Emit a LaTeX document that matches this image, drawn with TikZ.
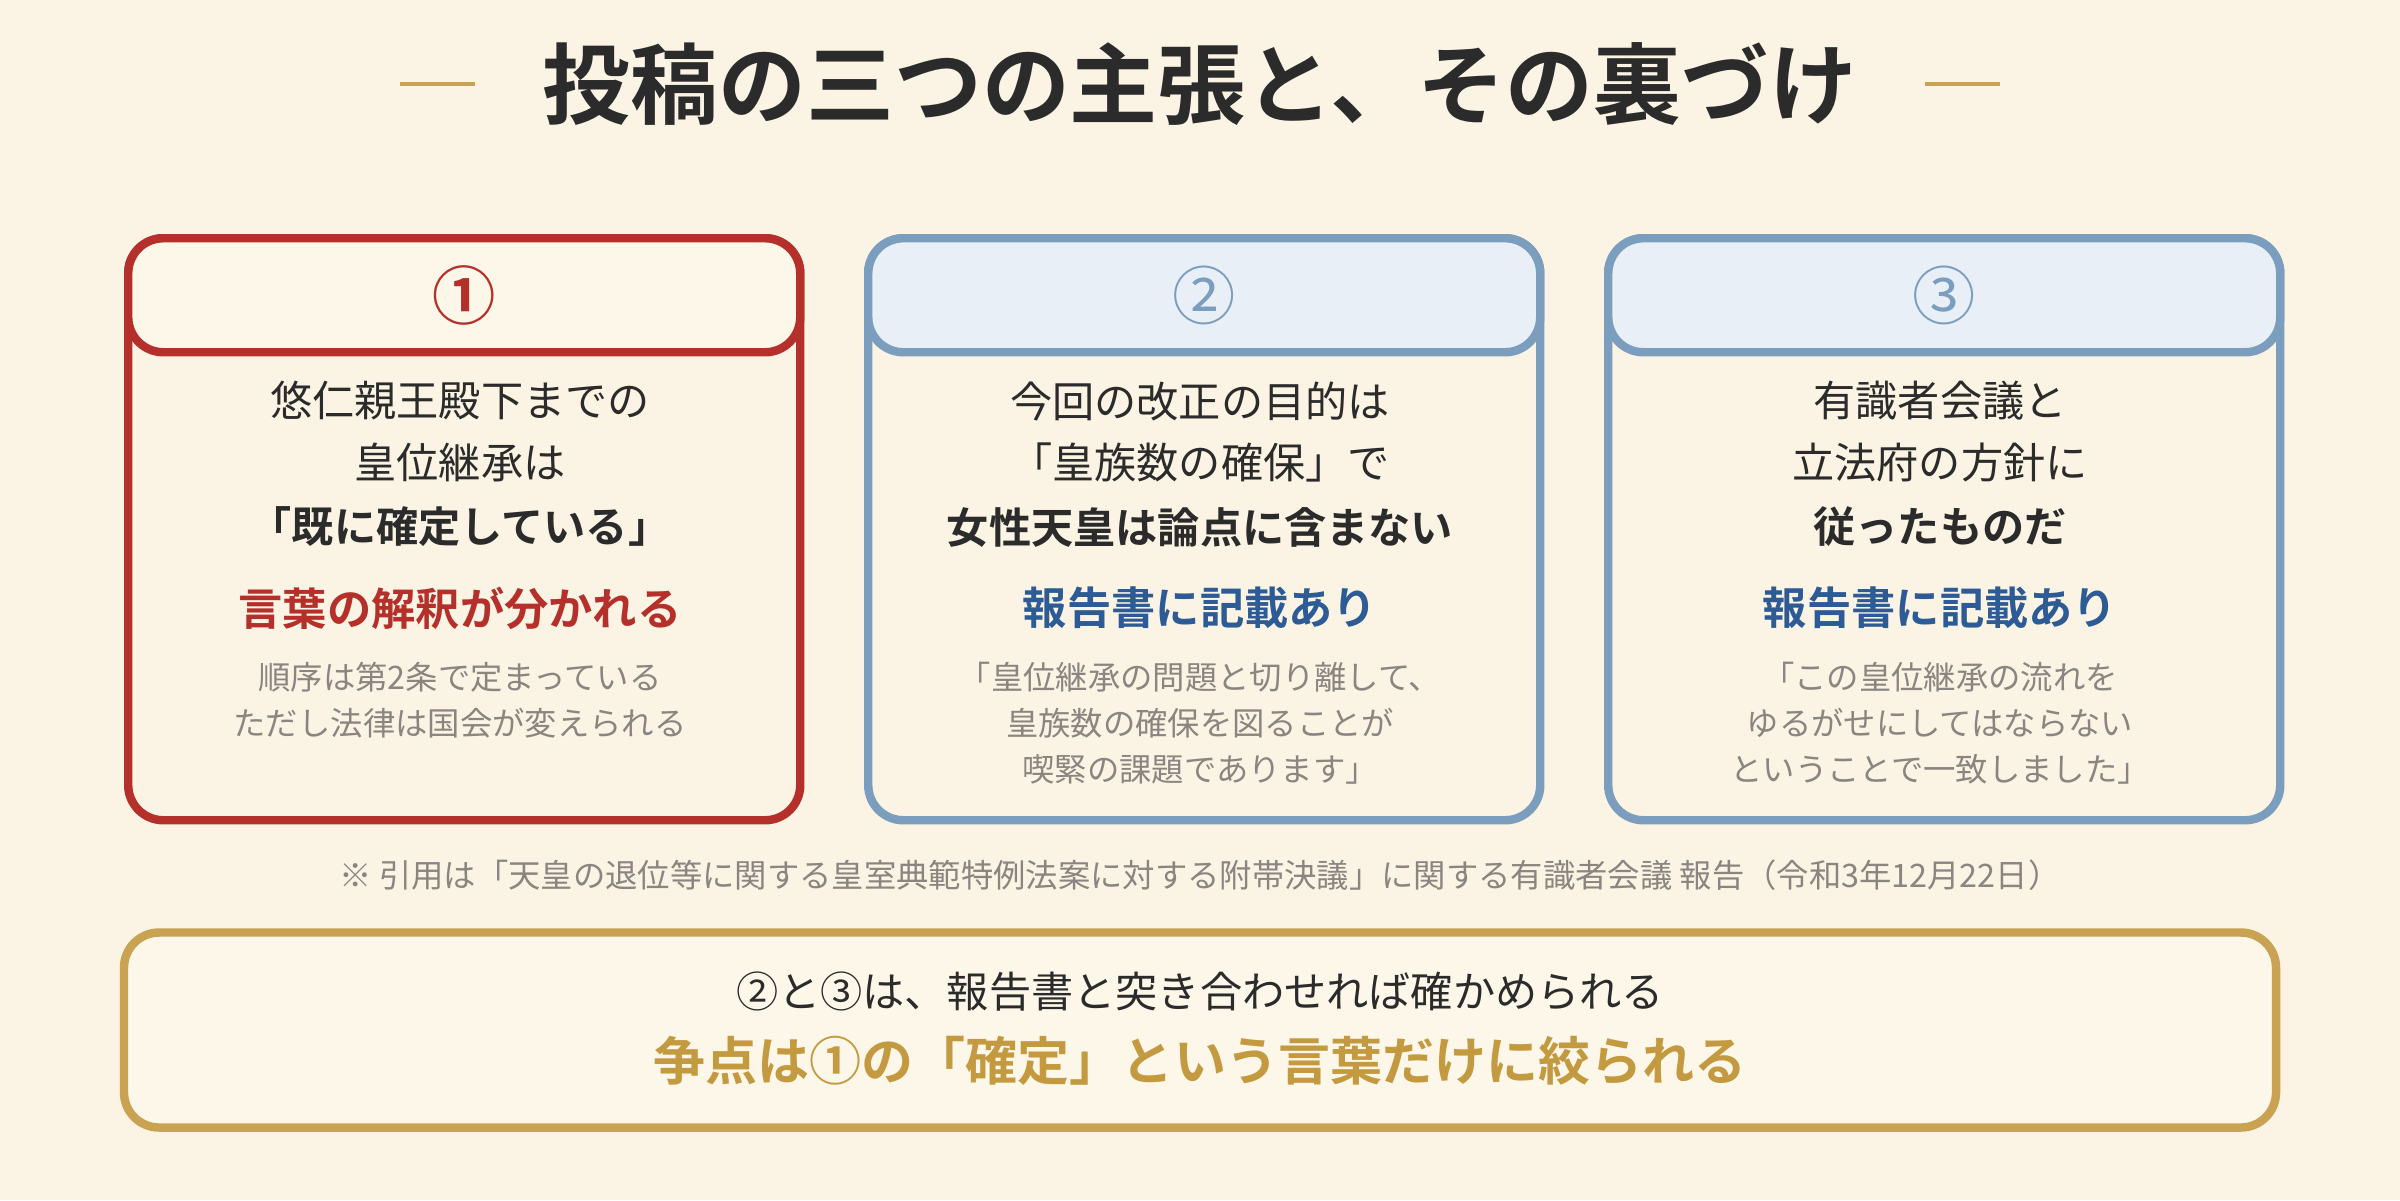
\documentclass[tikz,border=0pt]{standalone}
\usepackage{fontspec}
\setmainfont{Noto Sans CJK JP}
\newfontfamily\jpbold{Noto Sans CJK JP Bold}
\usetikzlibrary{positioning}
\usepackage{xcolor}
\definecolor{PaperBg}{HTML}{FBF3E3}
\definecolor{RedDark}{HTML}{B5302A}
\definecolor{RedLight}{HTML}{FDF7EA}
\definecolor{BlueDark}{HTML}{7B9DBE}
\definecolor{BlueText}{HTML}{2D5B96}
\definecolor{BlueLight}{HTML}{E8EFF6}
\definecolor{GoldDark}{HTML}{C9A351}
\definecolor{GoldText}{HTML}{C39A40}
\definecolor{InkDark}{HTML}{2B2B2B}
\definecolor{InkGray}{HTML}{8A8580}

\begin{document}
\begin{tikzpicture}[
  x=1cm, y=1cm,
  card/.style={rounded corners=10pt, line width=2.4pt, minimum width=6.72cm, minimum height=5.82cm, anchor=north west},
  head/.style={rounded corners=10pt, line width=2.4pt, minimum width=6.72cm, minimum height=1.14cm, anchor=north west},
  main/.style={font=\fontsize{12}{15}\selectfont, text=InkDark},
  mainb/.style={font=\jpbold\fontsize{12}{15}\selectfont, text=InkDark},
  key/.style={font=\jpbold\fontsize{12.6}{16}\selectfont},
  quote/.style={font=\fontsize{9.2}{13}\selectfont, text=InkGray, align=center, anchor=north},
  num/.style={font=\fontsize{18}{20}\selectfont}
]
\fill[PaperBg] (0,0) rectangle (24,-12);
\useasboundingbox (0,0) rectangle (24,-12);

% Title
\node[font=\jpbold\fontsize{25}{30}\selectfont, text=InkDark] (title) at (12,-0.84) {投稿の三つの主張と、その裏づけ};
\draw[GoldDark, line width=1.2pt] (4.0,-0.84) -- (4.75,-0.84);
\draw[GoldDark, line width=1.2pt] (19.25,-0.84) -- (20.0,-0.84);

% Card 1
\node[card, draw=RedDark, fill=PaperBg] (C1) at (1.24,-2.34) {};
\node[head, draw=RedDark, fill=RedLight] (H1) at (1.24,-2.34) {};
\node[num, text=RedDark, font=\jpbold\fontsize{18}{20}\selectfont] (N1) at (H1.center) {①};
\node[main] (C1a) at (4.6,-4.01) {悠仁親王殿下までの};
\node[main] (C1b) at (4.6,-4.62) {皇位継承は};
\node[mainb] (C1c) at (4.6,-5.27) {「既に確定している」};
\node[key, text=RedDark] (C1d) at (4.6,-6.08) {言葉の解釈が分かれる};
\node[quote] (C1e) at (4.6,-6.5) {順序は第2条で定まっている\\ただし法律は国会が変えられる};

% Card 2
\node[card, draw=BlueDark, fill=PaperBg] (C2) at (8.64,-2.34) {};
\node[head, draw=BlueDark, fill=BlueLight] (H2) at (8.64,-2.34) {};
\node[num, text=BlueDark] (N2) at (H2.center) {②};
\node[main] (C2a) at (12,-4.01) {今回の改正の目的は};
\node[main] (C2b) at (12,-4.62) {「皇族数の確保」で};
\node[mainb] (C2c) at (12,-5.27) {女性天皇は論点に含まない};
\node[key, text=BlueText] (C2d) at (12,-6.08) {報告書に記載あり};
\node[quote] (C2e) at (12,-6.5) {「皇位継承の問題と切り離して、\\皇族数の確保を図ることが\\喫緊の課題であります」};

% Card 3
\node[card, draw=BlueDark, fill=PaperBg] (C3) at (16.04,-2.34) {};
\node[head, draw=BlueDark, fill=BlueLight] (H3) at (16.04,-2.34) {};
\node[num, text=BlueDark] (N3) at (H3.center) {③};
\node[main] (C3a) at (19.4,-4.01) {有識者会議と};
\node[main] (C3b) at (19.4,-4.62) {立法府の方針に};
\node[mainb] (C3c) at (19.4,-5.27) {従ったものだ};
\node[key, text=BlueText] (C3d) at (19.4,-6.08) {報告書に記載あり};
\node[quote] (C3e) at (19.4,-6.5) {「この皇位継承の流れを\\ゆるがせにしてはならない\\ということで一致しました」};

% Source note
\node[font=\fontsize{9.2}{12}\selectfont, text=InkGray] (note) at (12,-8.75) {※ 引用は「天皇の退位等に関する皇室典範特例法案に対する附帯決議」に関する有識者会議 報告（令和3年12月22日）};

% Conclusion
\node[rounded corners=10pt, line width=2.4pt, draw=GoldDark, fill=RedLight, minimum width=21.52cm, minimum height=1.95cm] (concl) at (12,-10.3) {};
\node[main] (conclA) at (12,-9.92) {②と③は、報告書と突き合わせれば確かめられる};
\node[font=\jpbold\fontsize{14.8}{18}\selectfont, text=GoldText] (conclB) at (12,-10.61) {争点は①の「確定」という言葉だけに絞られる};
\end{tikzpicture}
\end{document}
